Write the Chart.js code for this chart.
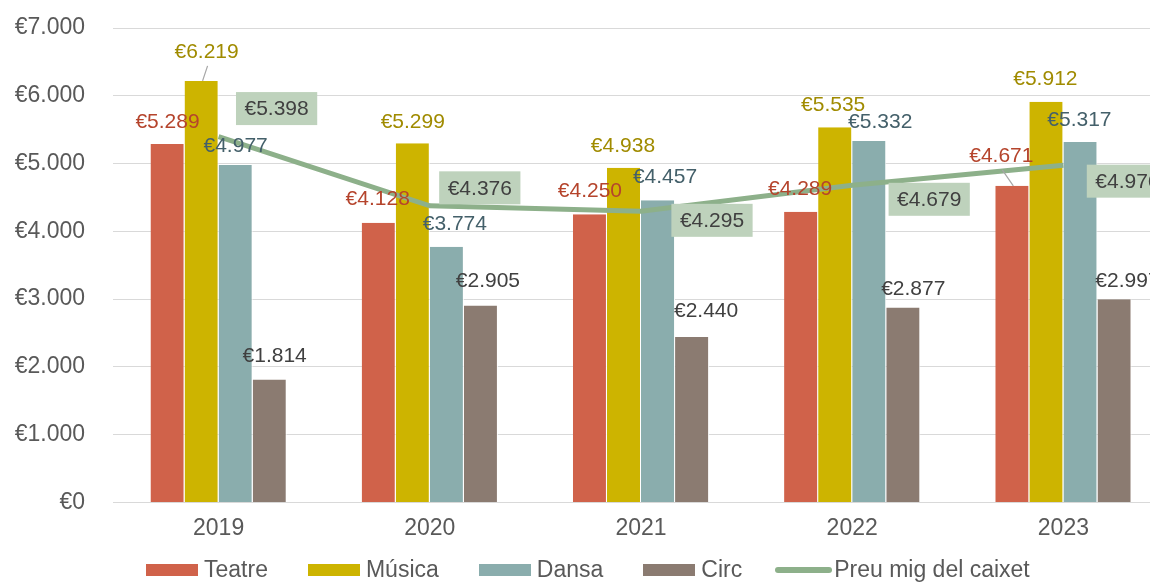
<!DOCTYPE html>
<html>
<head>
<meta charset="utf-8">
<script src="https://cdn.jsdelivr.net/npm/chart.js@4.4.1/dist/chart.umd.min.js"></script>
<style>
body{margin:0;overflow:hidden;background:#fff;font-family:"Liberation Sans",Arial,sans-serif;}
#wrap{position:relative;width:1180px;height:582px;}
#legend{position:absolute;left:126px;top:558px;display:flex;align-items:center;font-size:23px;line-height:23px;color:#595959;white-space:nowrap;}
.item{display:flex;align-items:center;margin:0 20px;}
.item.lineItem{margin-left:13px;}
.swatch{width:52px;height:12px;margin-right:6px;}
.lineSwatch{width:57px;height:6px;border-radius:3px;margin-right:2px;}
</style>
</head>
<body>
<div id="wrap">
  <canvas id="chart" width="1180" height="582"></canvas>
  <div id="legend"></div>
</div>
<script>
// dades
const years = ['2019', '2020', '2021', '2022', '2023'];
const teatre = [5289, 4128, 4250, 4289, 4671];
const musica = [6219, 5299, 4938, 5535, 5912];
const dansa = [4977, 3774, 4457, 5332, 5317];
const circ = [1814, 2905, 2440, 2877, 2997];
const preuMig = [5398, 4376, 4295, 4679, 4976];

// desplaçament de les etiquetes respecte del punt de la barra (px)
const shiftTeatre = [[0, -23], [-1, -24], [0, -24], [-1, -24], [-11, -31]];
const shiftMusica = [[5, -30], [0, -22], [-1, -23], [-2, -23], [-1, -24]];
const shiftDansa = [[0, -20], [8, -23], [7, -24], [11, -20], [-1, -23]];
const shiftCirc = [[5, -24], [7, -25], [14, -27], [10, -19], [13, -19]];
const shiftPreu = [[58, -28], [50, -18], [71, 9], [77, 14], [64, 16]];

function euro(v) {
    return '€' + String(v).replace(/\B(?=(\d{3})+(?!\d))/g, '.');
}

const FONT = '"Liberation Sans", Arial, sans-serif';

const valueLabels = {
    id: 'valueLabels',
    afterDatasetsDraw(chart) {
        const ctx = chart.ctx;
        ctx.save();
        ctx.font = '21px ' + FONT;
        ctx.textAlign = 'center';
        ctx.textBaseline = 'middle';
        chart.data.datasets.forEach((ds, i) => {
            const meta = chart.getDatasetMeta(i);
            meta.data.forEach((el, j) => {
                const x = el.x + ds.shift[j][0];
                const y = el.y + ds.shift[j][1];
                const txt = euro(ds.data[j]);
                if (ds.leaders && ds.leaders[j]) {
                    ctx.strokeStyle = '#A6A6A6';
                    ctx.lineWidth = 1.2;
                    ctx.beginPath();
                    ctx.moveTo(el.x + 1, el.y);
                    ctx.lineTo(x + 1, y + 15);
                    ctx.stroke();
                }
                if (ds.boxColor) {
                    const w = ctx.measureText(txt).width + 17;
                    ctx.fillStyle = ds.boxColor;
                    ctx.fillRect(x - w / 2, y - 16.5, w, 33);
                }
                ctx.fillStyle = ds.labelColor;
                ctx.fillText(txt, x, y + 1);
            });
        });
        ctx.restore();
    }
};

function barSet(label, data, color, labelColor, shift, leaders) {
    return {
        type: 'bar',
        label: label,
        data: data,
        backgroundColor: color,
        borderColor: '#ffffff',
        borderWidth: {left: 0, right: 1, top: 0, bottom: 0},
        borderSkipped: false,
        labelColor: labelColor,
        shift: shift,
        leaders: leaders,
        order: 2
    };
}

const ctx = document.getElementById('chart').getContext('2d');
const chart = new Chart(ctx, {
    data: {
        labels: years,
        datasets: [
            barSet('Teatre', teatre, '#D0624A', '#B5442C', shiftTeatre, [0, 0, 0, 0, 1]),
            barSet('Música', musica, '#CDB400', '#A08B00', shiftMusica, [1, 0, 0, 0, 0]),
            barSet('Dansa', dansa, '#8AADAD', '#44606A', shiftDansa, null),
            barSet('Circ', circ, '#8B7B71', '#404040', shiftCirc, null),
            {
                type: 'line',
                label: 'Preu mig del caixet',
                data: preuMig,
                borderColor: '#8DB08A',
                backgroundColor: '#8DB08A',
                borderWidth: 5,
                pointRadius: 0,
                tension: 0,
                fill: false,
                labelColor: '#404040',
                boxColor: '#BED2BC',
                shift: shiftPreu,
                order: 1
            }
        ]
    },
    options: {
        responsive: false,
        animation: false,
        layout: {padding: {top: 28, right: 11, bottom: 28, left: 0}},
        plugins: {
            legend: {display: false},
            tooltip: {enabled: false}
        },
        datasets: {
            bar: {categoryPercentage: 0.645, barPercentage: 1}
        },
        scales: {
            x: {
                grid: {display: false, drawTicks: false},
                border: {color: '#D9D9D9', width: 1},
                ticks: {color: '#595959', font: {size: 23, family: FONT}, padding: 12}
            },
            y: {
                min: 0,
                max: 7000,
                ticks: {
                    stepSize: 1000,
                    callback: (v) => euro(v),
                    color: '#595959',
                    font: {size: 23, family: FONT},
                    padding: 28
                },
                grid: {color: '#D9D9D9', drawTicks: false},
                border: {display: false},
                afterFit: function (scale) {
                    scale.width = 113;
                    scale.paddingTop = 0;
                }
            }
        }
    },
    plugins: [valueLabels]
});

// llegenda
const legend = document.getElementById('legend');
chart.data.datasets.forEach(function (ds) {
    const item = document.createElement('div');
    item.className = ds.type === 'line' ? 'item lineItem' : 'item';
    const sw = document.createElement('span');
    sw.className = ds.type === 'line' ? 'lineSwatch' : 'swatch';
    sw.style.background = ds.type === 'line' ? ds.borderColor : ds.backgroundColor;
    item.appendChild(sw);
    item.appendChild(document.createTextNode(ds.label));
    legend.appendChild(item);
});
</script>
</body>
</html>
